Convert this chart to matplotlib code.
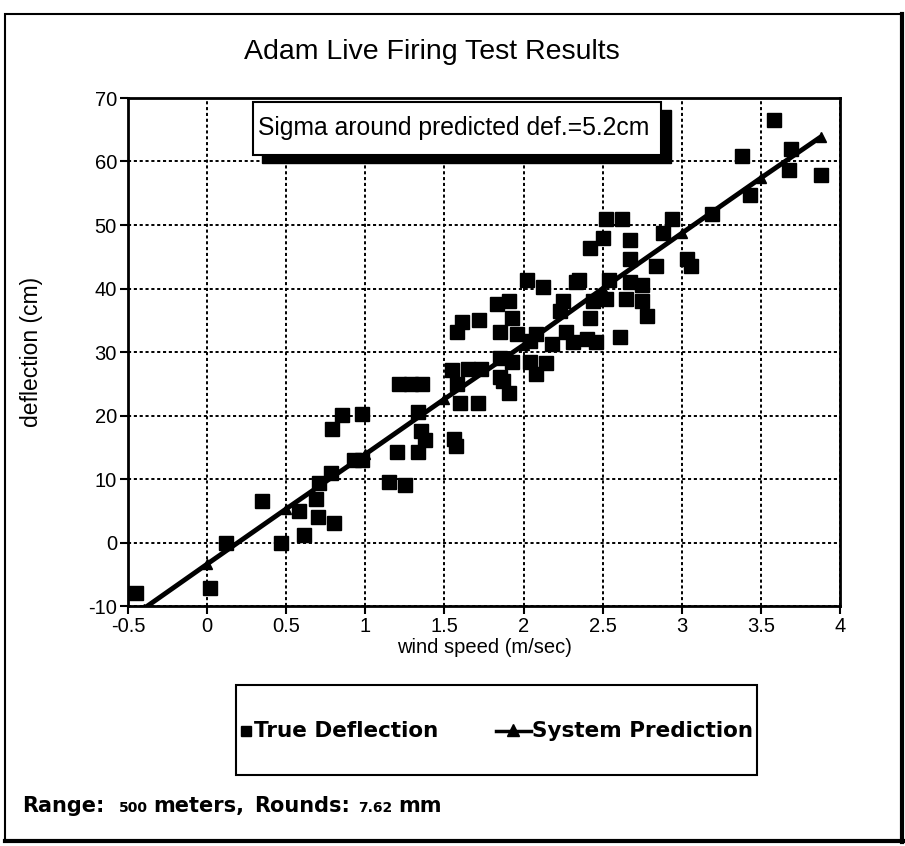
import matplotlib
matplotlib.use('Agg')
import matplotlib.pyplot as plt
from matplotlib.patches import Rectangle
from matplotlib.lines import Line2D
from matplotlib import font_manager as fm

# ---------------- data ----------------
true_x = [-0.45, 0.02, 0.12, 0.35, 0.47, 0.58, 0.61, 0.70, 0.69, 0.80,
          0.71, 0.78, 0.79, 0.85, 0.93, 0.98, 0.98, 1.15, 1.25, 1.20,
          1.33, 1.35, 1.38, 1.33, 1.21, 1.29, 1.36, 1.56, 1.57, 1.60,
          1.71, 1.58, 1.55, 1.65, 1.73, 1.85, 1.87, 1.91, 1.85, 1.93,
          1.58, 1.61, 1.72, 1.85, 1.96, 1.83, 1.91, 1.93, 2.02, 2.12,
          2.04, 2.14, 2.08, 2.04, 2.08, 2.18, 2.27, 2.25, 2.33, 2.23,
          2.31, 2.40, 2.46, 2.61, 2.42, 2.44, 2.52, 2.65, 2.75, 2.78,
          2.35, 2.54, 2.67, 2.75, 2.67, 2.84, 3.03, 3.06, 2.42, 2.50,
          2.67, 2.88, 2.52, 2.62, 2.94, 3.19, 3.43, 3.38, 3.58, 3.69,
          3.68, 3.88]
true_y = [-8.0, -7.1, 0.0, 6.6, 0.0, 5.0, 1.2, 4.0, 6.8, 3.0,
          9.3, 10.9, 17.8, 20.1, 13.0, 13.0, 20.2, 9.6, 9.1, 14.2,
          14.2, 17.5, 16.2, 20.6, 25.0, 25.0, 25.0, 16.3, 15.2, 21.9,
          21.9, 25.0, 27.2, 27.4, 27.4, 26.1, 25.4, 23.5, 29.0, 28.5,
          33.2, 34.8, 35.1, 33.2, 32.9, 37.5, 38.0, 35.3, 41.4, 40.3,
          28.5, 28.2, 26.5, 31.7, 32.8, 31.3, 33.2, 38.0, 41.0, 36.4,
          31.6, 32.1, 31.6, 32.4, 35.3, 38.0, 38.4, 38.4, 38.0, 35.6,
          41.4, 41.4, 41.1, 40.6, 44.6, 43.5, 44.7, 43.5, 46.3, 47.9,
          47.7, 48.7, 50.9, 50.9, 50.9, 51.8, 54.8, 60.8, 66.6, 62.0,
          58.7, 57.9]

pred_x = [-0.40, 0.0, 0.5, 1.0, 1.5, 2.0, 2.5, 3.0, 3.5, 3.88]
pred_y = [-10.4, -3.4, 5.3, 13.9, 22.6, 31.1, 40.0, 48.7, 57.4, 63.9]

x_ticks = [-0.5, 0, 0.5, 1, 1.5, 2, 2.5, 3, 3.5, 4]
x_tick_labels = ['-0.5', '0', '0.5', '1', '1.5', '2', '2.5', '3', '3.5', '4']
y_ticks = [-10, 0, 10, 20, 30, 40, 50, 60, 70]
y_tick_labels = ['-10', '0', '10', '20', '30', '40', '50', '60', '70']

title = 'Adam Live Firing Test Results'
x_label = 'wind speed (m/sec)'
y_label = 'deflection (cm)'
sigma_text = 'Sigma around predicted def.=5.2cm'
legend_labels = ['True Deflection', 'System Prediction']
footer_pieces = [('Range:', 15), ('500', 10), ('meters,', 15), ('Rounds:', 15), ('7.62', 10), ('mm', 15)]


def has_font(name):
    try:
        fm.findfont(fm.FontProperties(family=name), fallback_to_default=False)
        return True
    except Exception:
        return False


SANS = 'Liberation Sans'
NARROW = 'Liberation Sans Narrow' if has_font('Liberation Sans Narrow') else None
BOLDF = 'DejaVu Sans'

W, H = 905, 846
fig = plt.figure(figsize=(W / 100, H / 100), dpi=100)
fig.patch.set_facecolor('white')


def fx(px):
    return px / W


def fy(py):
    return 1 - py / H


ax = fig.add_axes([fx(128), fy(606), fx(840) - fx(128), fy(98) - fy(606)])
ax.set_xlim(-0.5, 4)
ax.set_ylim(-10, 70)

ax.grid(True, color='black', linestyle=(0, (1.6, 1.4)), linewidth=1.4)
ax.set_axisbelow(True)

ax.plot(pred_x, pred_y, color='black', lw=3.5, marker='^', markersize=7,
        solid_capstyle='butt', zorder=3)
ax.plot(true_x, true_y, ls='none', marker='s', color='black', markersize=9.5,
        zorder=4)

ax.set_xticks(x_ticks)
ax.set_xticklabels(x_tick_labels)
ax.set_yticks(y_ticks)
ax.set_yticklabels(y_tick_labels)
ax.tick_params(direction='out', length=6, width=1.5, labelsize=14.5, pad=2)
for lab in ax.get_xticklabels() + ax.get_yticklabels():
    lab.set_family(SANS)
for sp in ax.spines.values():
    sp.set_linewidth(2.0)

ax.set_xlabel(x_label, fontsize=14.5, family=SANS, labelpad=1)
ax.set_ylabel(y_label, fontsize=16.5, family=SANS)
ax.yaxis.set_label_coords((43 - 128) / 712, 0.5)

# sigma box with drop shadow
bx0, bx1 = 0.29, 2.87
by0, by1 = 61.1, 69.4
sdx, sdy = 0.06, 1.3
ax.add_patch(Rectangle((bx0 + sdx, by0 - sdy), bx1 - bx0, by1 - by0,
                       facecolor='black', edgecolor='black', zorder=5))
ax.add_patch(Rectangle((bx0, by0), bx1 - bx0, by1 - by0,
                       facecolor='white', edgecolor='black', lw=1.5, zorder=6))
ax.text((bx0 + bx1) / 2 - 0.02, (by0 + by1) / 2, sigma_text, ha='center', va='center',
        fontsize=17.8, family=SANS, zorder=7)

# title
if NARROW:
    fig.text(fx(432), fy(52), title, ha='center', va='center', fontsize=25, family=NARROW)
else:
    fig.text(fx(432), fy(52), title, ha='center', va='center', fontsize=20.5, family=SANS)

# outer frame
fig.add_artist(Rectangle((fx(5), fy(841)), fx(902) - fx(5), fy(14) - fy(841),
                         transform=fig.transFigure, fill=False, lw=1.5, ec='black'))
fig.add_artist(Line2D([fx(902), fx(902)], [fy(14), fy(842)], transform=fig.transFigure,
                      color='black', lw=3))
fig.add_artist(Line2D([fx(5), fx(903)], [fy(841), fy(841)], transform=fig.transFigure,
                      color='black', lw=3))

# legend (manually laid out)
fig.add_artist(Rectangle((fx(236), fy(775)), fx(757) - fx(236), fy(685) - fy(775),
                         transform=fig.transFigure, fill=False, lw=1.5, ec='black'))
ly = 731
fig.add_artist(Line2D([fx(246)], [fy(ly)], transform=fig.transFigure, ls='none',
                      marker='s', color='black', markersize=6.5))
fig.text(fx(254), fy(ly), legend_labels[0], ha='left', va='center', fontsize=15.5,
         fontweight='bold', family=BOLDF)
fig.add_artist(Line2D([fx(496), fx(531)], [fy(ly), fy(ly)], transform=fig.transFigure,
                      color='black', lw=2.5))
fig.add_artist(Line2D([fx(513)], [fy(ly - 1)], transform=fig.transFigure, ls='none',
                      marker='^', color='black', markersize=9))
fig.text(fx(532), fy(ly), legend_labels[1], ha='left', va='center', fontsize=15.5,
         fontweight='bold', family=BOLDF)

# footer with mixed sizes
renderer = fig.canvas.get_renderer()
xpos = 22
gaps = [14, 6, 10, 8, 6, 0]
for (s, size), gap in zip(footer_pieces, gaps):
    t = fig.text(fx(xpos), fy(812), s, fontsize=size, fontweight='bold', family=BOLDF,
                 ha='left', va='baseline')
    bb = t.get_window_extent(renderer)
    xpos = bb.x1 + gap

fig.savefig('out.png', dpi=100, facecolor='white')
